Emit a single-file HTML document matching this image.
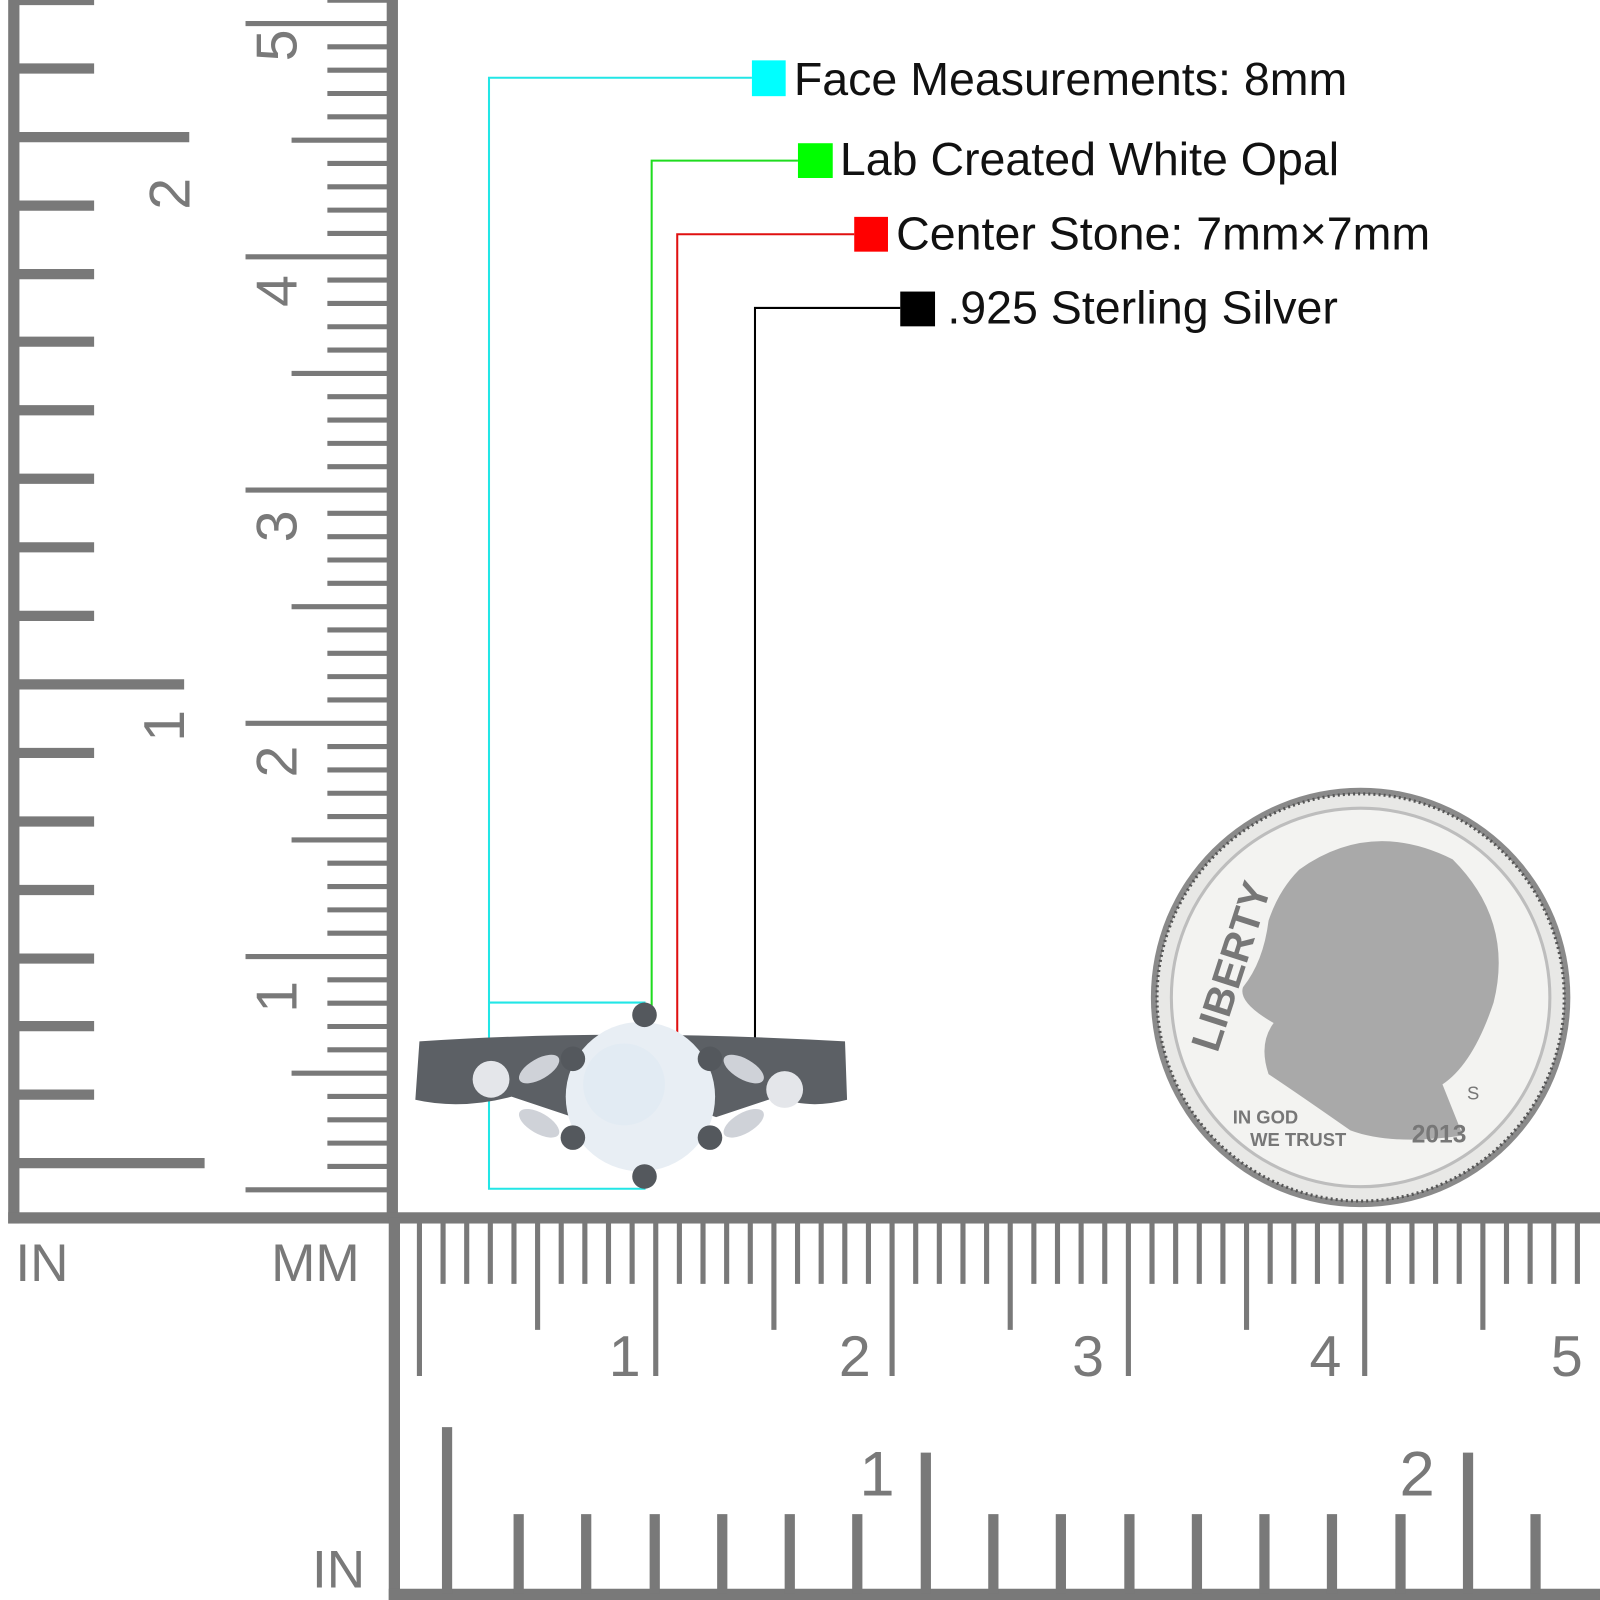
<!DOCTYPE html>
<html><head><style>html,body{margin:0;padding:0;background:#fff}svg{display:block}</style></head><body>
<svg width="1600" height="1600" viewBox="0 0 1564 1564" xmlns="http://www.w3.org/2000/svg" font-family="Liberation Sans, Arial, sans-serif">
<rect width="1564" height="1564" fill="#fff"/>
<g fill="#797979">
<rect x="8" y="0" width="11" height="1196"/>
<rect x="378" y="0" width="11" height="1196"/>
<rect x="8" y="1185" width="1556" height="11"/>
<rect x="380" y="1190" width="11" height="374"/>
<rect x="380" y="1553" width="1184" height="11"/>
</g>
<g stroke="#797979" stroke-width="10">
<line x1="18" y1="1137" x2="200" y2="1137"/>
<line x1="18" y1="1070" x2="92" y2="1070"/><line x1="18" y1="1003" x2="92" y2="1003"/>
<line x1="18" y1="937" x2="92" y2="937"/><line x1="18" y1="870" x2="92" y2="870"/>
<line x1="18" y1="803" x2="92" y2="803"/><line x1="18" y1="736" x2="92" y2="736"/>
<line x1="18" y1="669" x2="180" y2="669"/>
<line x1="18" y1="602" x2="92" y2="602"/><line x1="18" y1="535" x2="92" y2="535"/>
<line x1="18" y1="468" x2="92" y2="468"/><line x1="18" y1="401" x2="92" y2="401"/>
<line x1="18" y1="334" x2="92" y2="334"/><line x1="18" y1="268" x2="92" y2="268"/>
<line x1="18" y1="201" x2="92" y2="201"/><line x1="18" y1="134" x2="185" y2="134"/>
<line x1="18" y1="67" x2="92" y2="67"/><line x1="18" y1="0" x2="92" y2="0"/>
</g>
<g stroke="#797979" stroke-width="10">
<line x1="437" y1="1558" x2="437" y2="1395"/>
<line x1="507" y1="1558" x2="507" y2="1480"/><line x1="573" y1="1558" x2="573" y2="1480"/>
<line x1="640" y1="1558" x2="640" y2="1480"/><line x1="706" y1="1558" x2="706" y2="1480"/>
<line x1="772" y1="1558" x2="772" y2="1480"/><line x1="838" y1="1558" x2="838" y2="1480"/>
<line x1="905" y1="1558" x2="905" y2="1420"/>
<line x1="971" y1="1558" x2="971" y2="1480"/><line x1="1037" y1="1558" x2="1037" y2="1480"/>
<line x1="1104" y1="1558" x2="1104" y2="1480"/><line x1="1170" y1="1558" x2="1170" y2="1480"/>
<line x1="1236" y1="1558" x2="1236" y2="1480"/><line x1="1302" y1="1558" x2="1302" y2="1480"/>
<line x1="1369" y1="1558" x2="1369" y2="1480"/><line x1="1435" y1="1558" x2="1435" y2="1420"/>
<line x1="1501" y1="1558" x2="1501" y2="1480"/>
</g>
<g id="mmv" stroke="#797979" stroke-width="5"></g>
<g id="mmh" stroke="#797979" stroke-width="5"></g>
<script>
(function(){var ns="http://www.w3.org/2000/svg";var v=document.getElementById("mmv"),h=document.getElementById("mmh");
for(var i=0;i<=52;i++){var y=1163-i*22.8;if(y<0)break;var L=(i%10==0)?140:(i%5==0?95:60);var l=document.createElementNS(ns,"line");l.setAttribute("x1",380);l.setAttribute("x2",380-L);l.setAttribute("y1",y);l.setAttribute("y2",y);v.appendChild(l);}
for(var i=0;i<=50;i++){var x=410+i*23.1;if(x>1562)break;var L=(i%10==0)?150:(i%5==0?105:60);var l=document.createElementNS(ns,"line");l.setAttribute("x1",x);l.setAttribute("x2",x);l.setAttribute("y1",1195);l.setAttribute("y2",1195+L);h.appendChild(l);}
})();
</script>
<g fill="#797979" font-size="56">
<text transform="translate(185,205) rotate(-90)">2</text>
<text transform="translate(180,725) rotate(-90)">1</text>
<text transform="translate(290,990) rotate(-90)">1</text>
<text transform="translate(290,760) rotate(-90)">2</text>
<text transform="translate(290,530) rotate(-90)">3</text>
<text transform="translate(290,300) rotate(-90)">4</text>
<text transform="translate(290,60) rotate(-90)">5</text>
<text x="595" y="1345">1</text><text x="820" y="1345">2</text><text x="1048" y="1345">3</text><text x="1280" y="1345">4</text><text x="1516" y="1345">5</text>
<text x="840" y="1462" font-size="62">1</text><text x="1368" y="1462" font-size="62">2</text>
<text x="15" y="1252" font-size="52">IN</text><text x="265" y="1252" font-size="52">MM</text><text x="305" y="1552" font-size="52">IN</text>
</g>
<g fill="none" stroke-width="2">
<polyline points="735,76 478,76 478,1162 630,1162 630,980 478,980" stroke="#22e6e6"/>
<polyline points="780,157 637,157 637,1075" stroke="#1fdc1f"/>
<polyline points="835,229 662,229 662,1075" stroke="#e01010"/>
<polyline points="880,301 738,301 738,1030" stroke="#000"/>
</g>
<rect x="735" y="59" width="33" height="35" fill="#00ffff"/>
<rect x="780" y="140" width="34" height="34" fill="#00ff00"/>
<rect x="835" y="212" width="33" height="34" fill="#ff0000"/>
<rect x="880" y="285" width="34" height="34" fill="#000"/>
<g font-size="45.5" fill="#111">
<text x="776" y="93">Face Measurements: 8mm</text>
<text x="821" y="171">Lab Created White Opal</text>
<text x="876" y="244">Center Stone: 7mm×7mm</text>
<text x="926" y="316">.925 Sterling Silver</text>
</g>
<g>
<path d="M410,1018 Q600,1005 826,1018 L828,1075 Q790,1085 760,1072 L700,1092 Q640,1070 560,1092 L500,1072 Q450,1085 406,1075 Z" fill="#5c6065"/>
<ellipse cx="480" cy="1055" rx="18" ry="18" fill="#e4e6ea"/>
<ellipse cx="767" cy="1065" rx="18" ry="18" fill="#e4e6ea"/>
<ellipse cx="527" cy="1045" rx="22" ry="10" fill="#cfd2d8" transform="rotate(-30 527 1045)"/>
<ellipse cx="527" cy="1098" rx="22" ry="10" fill="#cfd2d8" transform="rotate(30 527 1098)"/>
<ellipse cx="727" cy="1045" rx="22" ry="10" fill="#cfd2d8" transform="rotate(30 727 1045)"/>
<ellipse cx="727" cy="1098" rx="22" ry="10" fill="#cfd2d8" transform="rotate(-30 727 1098)"/>
<circle cx="626" cy="1072" r="73" fill="#e8eef4"/>
<circle cx="610" cy="1060" r="40" fill="#dfe9f2" opacity="0.7"/>
<g fill="#54585d"><circle cx="630" cy="992" r="12"/><circle cx="630" cy="1150" r="12"/><circle cx="560" cy="1035" r="12"/><circle cx="694" cy="1035" r="12"/><circle cx="560" cy="1112" r="12"/><circle cx="694" cy="1112" r="12"/></g>
</g>
<g>
<circle cx="1330" cy="975" r="205" fill="#8a8a8a"/>
<circle cx="1330" cy="975" r="199" fill="#e8e8e6" stroke="#555" stroke-width="3" stroke-dasharray="2 3"/>
<circle cx="1330" cy="975" r="185" fill="#f3f3f1" stroke="#bdbdbd" stroke-width="3"/>
<path d="M1270,850 Q1340,800 1420,840 Q1480,900 1460,980 Q1440,1040 1410,1060 L1430,1110 Q1360,1120 1320,1105 Q1270,1070 1240,1050 Q1230,1020 1245,1000 Q1210,980 1215,965 Q1235,940 1240,900 Q1250,870 1270,850 Z" fill="#a9a9a9"/>
<g font-size="40" fill="#777" font-weight="bold"><text transform="translate(1190,1030) rotate(-72)">LIBERTY</text></g>
<text x="1205" y="1098" font-size="18" fill="#777" font-weight="bold">IN GOD</text>
<text x="1222" y="1120" font-size="18" fill="#777" font-weight="bold">WE TRUST</text>
<text x="1380" y="1117" font-size="24" fill="#777" font-weight="bold">2013</text>
<text x="1434" y="1075" font-size="18" fill="#777">S</text>
</g>
</svg>
</body></html>
